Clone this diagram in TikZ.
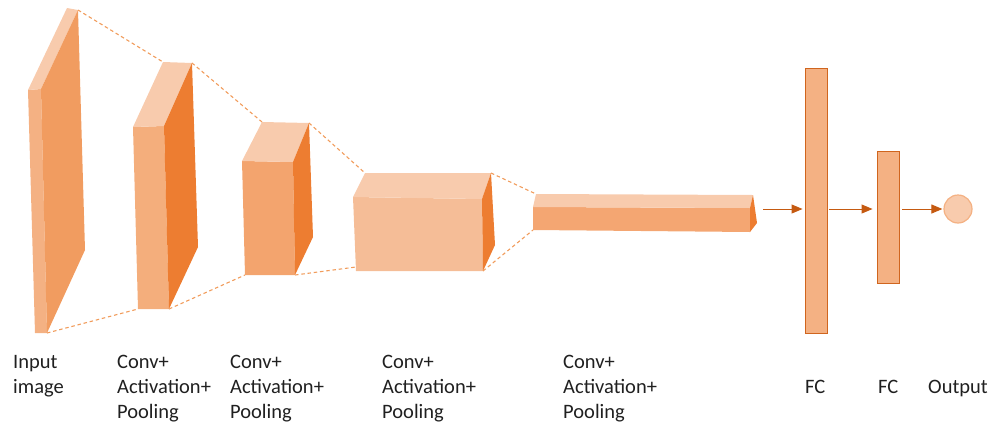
\documentclass[tikz,border=0pt]{standalone}
\usepackage{fontspec}
\setmainfont{Carlito}
\usetikzlibrary{arrows.meta}
\definecolor{topc}{HTML}{F8CBAD}
\definecolor{sidec}{HTML}{ED7D31}
\definecolor{fone}{HTML}{F4B183}
\definecolor{sone}{HTML}{F19C60}
\definecolor{ftwo}{HTML}{F4AE7C}
\definecolor{fthree}{HTML}{F3A46E}
\definecolor{ffour}{HTML}{F5BD97}
\definecolor{ffive}{HTML}{F4A672}
\definecolor{dashc}{HTML}{F19C5C}
\definecolor{fcfill}{HTML}{F4B183}
\definecolor{fcline}{HTML}{D0651E}
\definecolor{arrc}{HTML}{C55A11}
\definecolor{txt}{HTML}{202020}
\tikzset{
  link/.style={draw=dashc, line width=1.1pt, dash pattern=on 3.5pt off 2.8pt},
  fcbox/.style={draw=fcline, fill=fcfill, line width=0.9pt, minimum width=22pt, inner sep=0pt},
  flow/.style={draw=arrc, line width=1pt, -{Triangle[length=11pt,width=9pt]}},
  lbl/.style={anchor=base west, inner sep=0pt, text=txt, font=\fontsize{20.5}{25}\selectfont},
}
\begin{document}
\begin{tikzpicture}[x=1pt,y=-1pt]
\useasboundingbox (0,0) rectangle (992,426);

% ---------- box 1 (input image)
\coordinate (b1fa) at (28,90);
\coordinate (b1fb) at (41,89);
\coordinate (b1fc) at (47,333);
\coordinate (b1fd) at (35,333);
\coordinate (b1ta) at (67,8);
\coordinate (b1tb) at (78,10);
\coordinate (b1sc) at (85,250);
\fill[fone] (b1fa) -- (b1fb) -- (b1fc) -- (b1fd) -- cycle;
\fill[topc] (b1fa) -- (b1ta) -- (b1tb) -- (b1fb) -- cycle;
\fill[sone] (b1fb) -- (b1tb) -- (b1sc) -- (b1fc) -- cycle;

% ---------- box 2
\coordinate (b2fa) at (133,127);
\coordinate (b2fb) at (164,126);
\coordinate (b2fc) at (169,309);
\coordinate (b2fd) at (138,309);
\coordinate (b2ta) at (163,62);
\coordinate (b2tb) at (192,63);
\coordinate (b2sc) at (198,247);
\fill[ftwo] (b2fa) -- (b2fb) -- (b2fc) -- (b2fd) -- cycle;
\fill[topc] (b2fa) -- (b2ta) -- (b2tb) -- (b2fb) -- cycle;
\fill[sidec] (b2fb) -- (b2tb) -- (b2sc) -- (b2fc) -- cycle;

% ---------- box 3
\coordinate (b3fa) at (242,161);
\coordinate (b3fb) at (293,162);
\coordinate (b3fc) at (295,275);
\coordinate (b3fd) at (245,275);
\coordinate (b3ta) at (262,122);
\coordinate (b3tb) at (309,123);
\coordinate (b3sc) at (313,237);
\fill[fthree] (b3fa) -- (b3fb) -- (b3fc) -- (b3fd) -- cycle;
\fill[topc] (b3fa) -- (b3ta) -- (b3tb) -- (b3fb) -- cycle;
\fill[sidec] (b3fb) -- (b3tb) -- (b3sc) -- (b3fc) -- cycle;

% ---------- box 4
\coordinate (b4fa) at (353,197);
\coordinate (b4fb) at (482,199);
\coordinate (b4fc) at (483,271);
\coordinate (b4fd) at (356,271);
\coordinate (b4ta) at (365,173);
\coordinate (b4tb) at (491,173);
\coordinate (b4sc) at (495,245);
\coordinate (b4in) at (356,267);
\fill[ffour] (b4fa) -- (b4fb) -- (b4fc) -- (b4fd) -- cycle;
\fill[topc] (b4fa) -- (b4ta) -- (b4tb) -- (b4fb) -- cycle;
\fill[sidec] (b4fb) -- (b4tb) -- (b4sc) -- (b4fc) -- cycle;

% ---------- box 5
\coordinate (b5fa) at (533,207);
\coordinate (b5fb) at (750,208);
\coordinate (b5fc) at (750,232);
\coordinate (b5fd) at (533,230);
\coordinate (b5ta) at (536,194);
\coordinate (b5tb) at (753,195);
\coordinate (b5sc) at (757,223);
\fill[ffive] (b5fa) -- (b5fb) -- (b5fc) -- (b5fd) -- cycle;
\fill[topc] (b5fa) -- (b5ta) -- (b5tb) -- (b5fb) -- cycle;
\fill[sidec] (b5fb) -- (b5tb) -- (b5sc) -- (b5fc) -- cycle;

% ---------- dashed links
\draw[link] (b1tb) -- (b2ta);
\draw[link] (b1fc) -- (b2fd);
\draw[link] (b2tb) -- (b3ta);
\draw[link] (b2fc) -- (b3fd);
\draw[link] (b3tb) -- (b4ta);
\draw[link] (b3fc) -- (b4in);
\draw[link] (b4tb) -- (b5ta);
\draw[link] (b4fc) -- (b5fd);

% ---------- fully connected part
\node[fcbox, minimum height=265pt] (fc1) at (816,200.5) {};
\node[fcbox, minimum height=132pt] (fc2) at (888,217) {};
\node[circle, draw=fone, fill=topc, line width=1.2pt, minimum size=28pt, inner sep=0pt] (out) at (958,209) {};
\coordinate (src) at (763,209);
\draw[flow, shorten >=2pt] (src) -- (fc1.west |- src);
\draw[flow, shorten <=2pt, shorten >=4pt] (fc1.east |- src) -- (fc2.west |- src);
\draw[flow, shorten <=3pt, shorten >=1pt] (fc2.east |- src) -- (out.west);

% ---------- labels
\node[lbl] (l1a) at (13,368) {Input};
\node[lbl] (l1b) at (13,393) {image};
\node[lbl] (l2a) at (117,368) {Conv+};
\node[lbl] (l2b) at (117,393) {Activation+};
\node[lbl] (l2c) at (117,418) {Pooling};
\node[lbl] (l3a) at (230,368) {Conv+};
\node[lbl] (l3b) at (230,393) {Activation+};
\node[lbl] (l3c) at (230,418) {Pooling};
\node[lbl] (l4a) at (382,368) {Conv+};
\node[lbl] (l4b) at (382,393) {Activation+};
\node[lbl] (l4c) at (382,418) {Pooling};
\node[lbl] (l5a) at (563,368) {Conv+};
\node[lbl] (l5b) at (563,393) {Activation+};
\node[lbl] (l5c) at (563,418) {Pooling};
\node[lbl] (l6) at (805,393) {FC};
\node[lbl] (l7) at (878,393) {FC};
\node[lbl] (l8) at (928,393) {Output};
\end{tikzpicture}
\end{document}
